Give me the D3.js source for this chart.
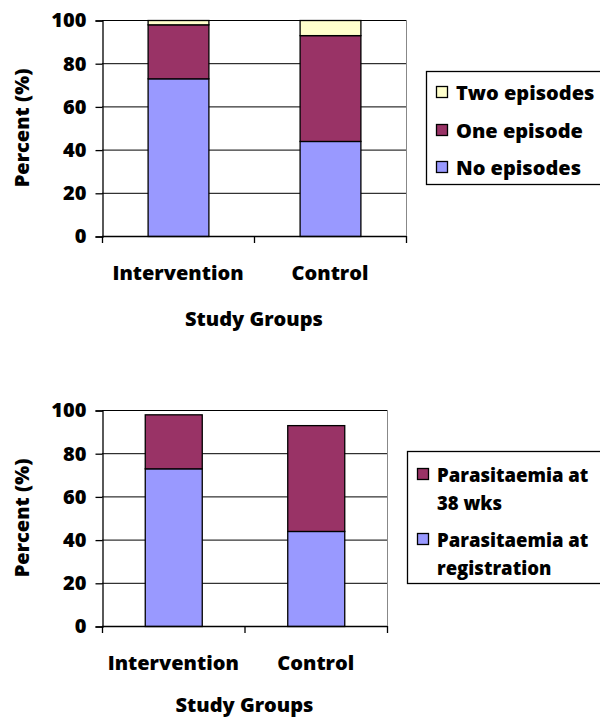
<!DOCTYPE html>
<html>
<head>
<meta charset="utf-8">
<script src="https://cdn.jsdelivr.net/npm/d3@7"></script>
<style>
  html, body { margin: 0; padding: 0; background: #fff; }
  svg { display: block; }
  text { font-family: "Open Sans", sans-serif; font-weight: 800; fill: #000; }
</style>
</head>
<body>
<svg id="chart" width="600" height="717"></svg>
<script>
// ---- data ----
const categories = ["Intervention", "Control"];
const noEpisodes = [73, 44];
const oneEpisode = [25, 49];
const twoEpisodes = [2, 7];
const parasitRegistration = [73, 44];
const parasit38wks = [25, 49];
const yTickValues = [0, 20, 40, 60, 80, 100];
const xTitle = "Study Groups";
const yTitle = "Percent (%)";

const svg = d3.select("#chart");
const FS = "20px";

function drawChart(cfg) {
  const g = svg.append("g");
  const y = d3.scaleLinear().domain([0, 100]).range([cfg.y0, cfg.y1]);
  const xOuter = d3.scaleBand().domain(categories).range([cfg.x0, cfg.x1]).padding(0);
  const x = d3.scaleBand().domain(categories).range([cfg.x0, cfg.x1]).paddingInner(0.6).paddingOuter(0.3);

  // gridlines
  g.selectAll("line.grid").data(yTickValues.filter(v => v > 0)).join("line")
    .attr("x1", cfg.x0).attr("x2", cfg.x1)
    .attr("y1", d => y(d) + 0.5).attr("y2", d => y(d) + 0.5)
    .attr("stroke", "#000").attr("stroke-width", 1);
  // right border
  g.append("line").attr("x1", cfg.x1 + 0.5).attr("x2", cfg.x1 + 0.5)
    .attr("y1", y(100)).attr("y2", y(0)).attr("stroke", "#888").attr("stroke-width", 1);

  // stacked bars
  const rows = categories.map((c, i) => {
    const o = { cat: c };
    cfg.series.forEach(s => o[s.key] = s.values[i]);
    return o;
  });
  const stack = d3.stack().keys(cfg.series.map(s => s.key))(rows);
  stack.forEach((layer, li) => {
    g.selectAll(null).data(layer).join("rect")
      .attr("x", d => x(d.data.cat) + 0.5)
      .attr("width", x.bandwidth())
      .attr("y", d => y(d[1]) + 0.5)
      .attr("height", d => y(d[0]) - y(d[1]))
      .attr("fill", cfg.series[li].color)
      .attr("stroke", "#000").attr("stroke-width", 1.3);
  });

  // y axis
  const yAxis = d3.axisLeft(y).tickValues(yTickValues).tickSize(7).tickPadding(9);
  const ya = g.append("g").attr("transform", `translate(${cfg.x0 + 0.5},0.5)`).call(yAxis);
  ya.select(".domain").attr("stroke", "#000").attr("stroke-width", 1.3);
  ya.selectAll(".tick line").attr("stroke", "#000").attr("stroke-width", 1.3);
  ya.selectAll(".tick text").style("font-size", FS).attr("fill", "#000")
    .style("font-family", "'Open Sans', sans-serif").style("font-weight", "800");

  // x axis
  g.append("line").attr("x1", cfg.x0).attr("x2", cfg.x1)
    .attr("y1", y(0) + 0.5).attr("y2", y(0) + 0.5).attr("stroke", "#000").attr("stroke-width", 1.3);
  const tickXs = categories.map(c => xOuter(c)).concat([cfg.x1]);
  g.selectAll(null).data(tickXs).join("line")
    .attr("x1", d => d + 0.5).attr("x2", d => d + 0.5)
    .attr("y1", y(0)).attr("y2", y(0) + 7)
    .attr("stroke", "#000").attr("stroke-width", 1.3);
  g.selectAll(null).data(categories).join("text")
    .attr("x", d => x(d) + x.bandwidth() / 2)
    .attr("y", cfg.catY)
    .attr("text-anchor", "middle").attr("dominant-baseline", "central")
    .style("font-size", FS)
    .text(d => d);

  // axis titles
  g.append("text").attr("x", (cfg.x0 + cfg.x1) / 2).attr("y", cfg.titleY)
    .attr("text-anchor", "middle").attr("dominant-baseline", "central")
    .style("font-size", FS).text(xTitle);
  g.append("text")
    .attr("transform", `translate(21,${(cfg.y0 + cfg.y1) / 2}) rotate(-90)`)
    .attr("text-anchor", "middle").attr("dominant-baseline", "central")
    .style("font-size", FS).text(yTitle);

  // legend
  g.append("rect").attr("x", cfg.legend.x + 0.5).attr("y", cfg.legend.y + 0.5)
    .attr("width", 260).attr("height", cfg.legend.h)
    .attr("fill", "#fff").attr("stroke", "#000").attr("stroke-width", 1.3);
  cfg.legend.items.forEach(it => {
    g.append("rect").attr("x", it.sx + 0.5).attr("y", it.rows[0] - 5.5)
      .attr("width", 11).attr("height", 11)
      .attr("fill", it.color).attr("stroke", "#000").attr("stroke-width", 1.3);
    it.lines.forEach((ln, k) => {
      g.append("text").attr("x", it.tx).attr("y", it.rows[k])
        .attr("dominant-baseline", "central")
        .style("font-size", cfg.legend.fs).text(ln);
    });
  });
}

const cNo = "#9999FF", cOne = "#993366", cTwo = "#FFFFCC";

drawChart({
  x0: 102, x1: 406, y0: 236, y1: 20, catY: 272, titleY: 318,
  series: [
    { key: "No episodes", values: noEpisodes, color: cNo },
    { key: "One episode", values: oneEpisode, color: cOne },
    { key: "Two episodes", values: twoEpisodes, color: cTwo }
  ],
  legend: {
    x: 426, y: 71, h: 113, fs: "20px",
    items: [
      { color: cTwo, lines: ["Two episodes"], rows: [92], sx: 436, tx: 456 },
      { color: cOne, lines: ["One episode"], rows: [130], sx: 436, tx: 456 },
      { color: cNo, lines: ["No episodes"], rows: [167], sx: 436, tx: 456 }
    ]
  }
});

drawChart({
  x0: 102, x1: 387, y0: 626, y1: 410, catY: 662, titleY: 704,
  series: [
    { key: "Parasitaemia at registration", values: parasitRegistration, color: cNo },
    { key: "Parasitaemia at 38 wks", values: parasit38wks, color: cOne }
  ],
  legend: {
    x: 407, y: 451, h: 132, fs: "18.5px",
    items: [
      { color: cOne, lines: ["Parasitaemia at", "38 wks"], rows: [474, 502], sx: 417, tx: 437 },
      { color: cNo, lines: ["Parasitaemia at", "registration"], rows: [539, 567], sx: 417, tx: 437 }
    ]
  }
});
</script>
</body>
</html>
